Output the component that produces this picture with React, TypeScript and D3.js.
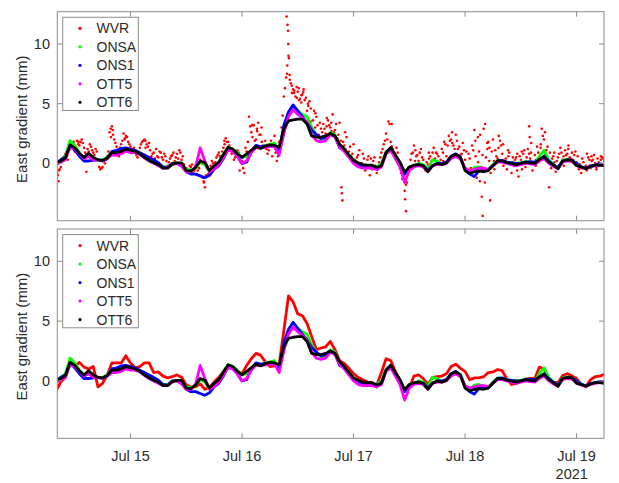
import React from "react";
import * as d3 from "d3";

// ---- data (hourly values, first sample at FIRST_HOUR hours after Jul 14 00:00) ----
const FIRST_HOUR = 8;
const OTT6 = [
  0, 0.2, 0.45, 1.55, 1.3, 0.85, 0.5, 0.85, 0.5, 0.3,
  0.25, 0.45, 0.9, 0.9, 1.0, 1.2, 1.1, 1.0, 0.8, 0.5,
  0.25, 0.05, -0.1, -0.4, -0.4, -0.05, 0.05, 0.05, -0.6, -0.65,
  -0.35, 0.2, 0.05, -0.6, -0.2, 0.1, 0.75, 1.35, 1.2, 0.8,
  0.5, 0.8, 1.1, 1.4, 1.25, 1.45, 1.55, 1.5, 1.35, 2.9,
  3.55, 3.65, 3.7, 3.7, 3.3, 2.3, 2.2, 2.2, 2.3, 2.5,
  2.3, 1.6, 1.2, 0.7, 0.25, 0.05, -0.1, -0.15, -0.15, -0.35,
  -0.2, 0.9, 1.3, 0.7, 0.1, -0.75, -0.3, -0.15, -0.1, -0.2,
  -0.7, -0.2, 0.0, -0.1, 0.05, 0.6, 0.75, 0.5, -0.6, -0.85,
  -0.7, -0.65, -0.7, -0.6, -0.2, 0.2, 0.2, 0.05, 0.0, -0.1,
  0.0, 0.1, 0.05, 0.0, 0.35, 0.55, 0.1, -0.15, -0.45, 0.2,
  0.3, 0.25, -0.2, -0.3, -0.45, -0.25, -0.15, -0.15, -0.2,
];
const ONSA = [
  0, 0.3, 0.6, 1.9, 1.5, 0.9, 0.4, 0.6, 0.4, 0.3,
  0.3, 0.5, 1.0, 1.0, 1.1, 1.25, 1.05, 0.95, 0.85, 0.6,
  0.35, 0.15, 0.0, -0.3, -0.3, 0.0, 0.05, -0.15, -0.5, -0.55,
  -0.4, 0.1, -0.1, -0.7, -0.3, 0.1, 0.8, 1.35, 1.2, 0.9,
  0.5, 0.6, 1.1, 1.4, 1.35, 1.5, 1.6, 1.7, 1.0, 2.6,
  4.2, 4.8, 4.4, 4.1, 3.9, 3.0, 2.4, 2.0, 2.1, 2.6,
  2.4, 1.5, 1.1, 0.7, 0.25, -0.1, -0.25, -0.3, -0.25, -0.3,
  0.0, 1.0, 1.2, 0.6, 0.0, -0.8, -0.3, -0.2, 0.0, -0.1,
  -0.5, 0.3, 0.2, -0.1, 0.1, 0.5, 0.7, 0.5, -0.4, -0.7,
  -0.35, -0.3, -0.5, -0.5, -0.1, 0.25, 0.2, 0.1, 0.05, 0.0,
  0.05, 0.15, 0.1, 0.0, 0.6, 1.1, 0.3, -0.1, -0.35, 0.25,
  0.35, 0.2, 0.0, -0.25, -0.45, -0.3, -0.15, -0.1, -0.1,
];
const ONS1 = [
  0, 0.3, 0.5, 1.5, 1.1, 0.6, 0.2, 0.2, 0.25, 0.3,
  0.2, 0.4, 1.0, 1.1, 1.25, 1.3, 1.2, 1.1, 0.9, 0.7,
  0.5, 0.3, 0.05, -0.3, -0.35, 0.0, 0.0, -0.2, -0.7, -0.9,
  -0.9, -1.05, -1.2, -1.0, -0.5, -0.2, 0.4, 1.2, 1.1, 0.6,
  0.0, 0.1, 1.0, 1.5, 1.4, 1.45, 1.5, 1.4, 1.0, 3.2,
  4.3, 4.9, 4.4, 3.9, 3.4, 2.8, 2.4, 2.1, 2.2, 2.5,
  2.3, 1.3, 1.1, 0.6, 0.2, -0.05, -0.2, -0.3, -0.3, -0.5,
  -0.2, 0.9, 1.3, 0.6, 0.0, -0.9, -0.4, -0.25, -0.1, -0.2,
  -0.55, -0.2, 0.0, 0.0, 0.1, 0.6, 0.8, 0.5, -0.5, -0.9,
  -1.1, -0.6, -0.6, -0.55, -0.2, 0.2, 0.25, 0.1, 0.05, 0.0,
  0.0, 0.1, 0.15, 0.1, 0.3, 0.6, 0.2, -0.1, -0.35, 0.2,
  0.3, 0.25, 0.0, -0.3, -0.4, -0.2, -0.15, -0.05, -0.1,
];
const OTT5 = [
  -0.1, 0.1, 0.3, 1.4, 1.2, 0.8, 0.4, 0.6, 0.3, 0.3,
  0.2, 0.4, 0.7, 0.7, 0.8, 1.0, 0.9, 0.9, 0.75, 0.45,
  0.2, 0.0, -0.2, -0.4, -0.35, -0.1, 0.0, -0.25, -0.7, -0.7,
  -0.3, 1.3, 0.2, -0.7, -0.5, -0.1, 0.5, 1.1, 1.0, 0.6,
  0.0, 0.2, 0.9, 1.3, 1.3, 1.35, 1.4, 1.4, 0.7, 2.5,
  3.9, 4.5, 4.1, 3.8, 3.4, 2.4, 1.9, 1.8, 1.9, 2.4,
  2.2, 1.4, 1.0, 0.5, 0.0, -0.3, -0.4, -0.4, -0.4, -0.5,
  -0.3, 0.8, 1.1, 0.4, -0.3, -1.6, -0.6, -0.3, -0.2, -0.3,
  -0.7, -0.2, -0.1, -0.1, 0.0, 0.4, 0.6, 0.35, -0.4, -0.6,
  -0.5, -0.4, -0.4, -0.5, -0.2, 0.1, 0.1, 0.0, -0.1, -0.2,
  -0.1, 0.0, -0.05, -0.1, 0.2, 0.4, 0.0, -0.25, -0.45, 0.1,
  0.2, 0.15, -0.15, -0.35, -0.45, -0.3, -0.2, -0.15, -0.15,
];
const WVR_LINE = [
  -0.8, -0.1, 0.3, 1.45, 1.2, 1.55, 1.15, 1.0, 1.2, -0.5,
  -0.2, 0.5, 1.5, 1.5, 1.5, 2.1, 1.5, 1.1, 1.2, 1.5,
  1.5, 0.7, 0.75, 0.4, 0.25, 0.35, 0.5, 0.3, -0.35, -0.5,
  -0.5, -0.25, -0.7, -0.55, -0.1, 0.3, 0.8, 1.25, 1.2, 0.8,
  0.6, 1.3, 1.85, 2.3, 2.15, 1.6, 1.2, 1.25, 1.4, 4.2,
  7.1, 6.6, 5.6, 5.45, 4.8, 3.7, 2.6, 2.75, 2.85, 3.3,
  2.6, 1.7, 1.45, 1.05, 0.6, 0.3, 0.1, -0.1, -0.15, -0.35,
  0.7, 1.85, 1.7, 0.8, 0.05, -0.8, -0.6, 0.4, 0.5, 0.2,
  -0.3, 0.3, 0.35, 0.4, 0.6, 1.2, 1.4, 1.05, 0.8, 0.1,
  0.25, 0.25, 0.35, 0.7, 0.75, 0.95, 0.85, 0.15, -0.3, -0.2,
  -0.05, 0.15, 0.2, 0.2, 1.15, 1.0, 0.15, -0.1, -0.15, 0.45,
  0.6, 0.4, 0.2, -0.3, -0.5, 0.1, 0.35, 0.4, 0.55,
];
// raw WVR samples every half hour from FIRST_HOUR
const WVR_STEP = 0.5;
const WVR_RAW: (number | null)[] = [
  -1.2, -1.5, -0.3, 0.5, 0.8, 0.3, 1.2, 1.7, 1.0, 1.9,
  1.5, 2.0, 1.3, -0.7, 1.0, 1.4, 0.9, 1.2, null, -0.5,
  -0.3, 0.0, 0.6, 2.6, 3.1, 2.0, 1.4, 0.6, 1.6, 2.5,
  2.3, 1.8, 1.4, 0.9, 1.1, 0.5, 1.3, 1.8, 2.0, 1.6,
  1.7, 0.6, 0.9, 1.2, 0.5, 0.9, 0.3, 0.6, -0.2, 0.4,
  0.7, 0.2, 0.8, 1.1, 0.3, -0.1, -0.4, -0.6, -0.3, -0.8,
  -0.2, -0.6, 0.3, -1.2, -2.0, -0.4, -0.8, 0.2, -0.3, 0.5,
  0.9, 0.5, 1.3, 2.1, 1.8, 1.2, 0.9, 0.5, 1.1, -0.6,
  0.2, -0.8, 1.0, 3.9, 2.6, 3.2, 2.0, 3.4, 2.4, 1.5,
  1.9, 0.8, 1.6, 0.6, 2.3, 0.2, 1.8, 3.0, 5.6, 7.2,
  9.0, 6.7, 6.2, 5.6, 6.0, 5.4, 5.8, 5.3, 4.4, 5.2,
  2.8, 4.4, 3.9, 2.4, 2.9, 3.3, 2.5, 3.6, 3.0, 4.1,
  2.8, 2.1, 3.4, -2.5, 1.5, 2.2, 1.0, 0.6, 1.6, 0.2,
  0.7, -0.2, 0.8, -0.6, 0.3, -1.0, -0.5, 0.5, -0.8, 0.1,
  0.9, 1.6, 2.5, 3.5, 1.8, 1.2, 0.6, 0.9, -0.4, -1.3,
  -2.3, -1.6, -0.5, 0.8, 1.5, 0.6, 0.2, 1.2, 0.3, -0.6,
  -0.1, 0.6, 0.9, 0.4, 0.8, 0.1, 1.2, 1.8, 0.6, 2.3,
  2.0, 1.5, 2.4, 1.2, 0.7, 1.7, 0.3, -0.6, 0.4, 1.5,
  2.8, -1.2, 1.0, -0.3, 2.9, 0.5, 1.8, -0.8, 2.0, 1.1,
  0.4, 1.9, 0.8, 0.2, -0.5, 0.9, -0.8, -0.2, 0.5, -1.1,
  0.3, 0.8, -0.3, 1.2, 0.4, -0.6, 0.7, 1.4, 0.2, 2.9,
  2.0, 1.1, 0.2, -0.4, 0.6, -0.7, 0.5, 1.3, 0.3, 1.1,
  0.8, 0.5, 0.9, 0.7, 0.1, -0.5, -0.8, 0.1, -0.2, 0.5,
  -0.4, 0.3, 0.0, 0.4, -0.2, 0.5, 0.2,
];
// more raw WVR samples, hourly, starting at FIRST_HOUR + 0.25
const WVR_RAW_B = [
  -0.9, 0.2, 0.9, 1.5, 1.3, 1.8, 0.9, 1.6, 0.7, -0.3,
  0.2, 1.0, 2.4, 1.1, 1.9, 2.2, 1.2, 0.7, 1.6, 1.3,
  1.1, 0.4, 1.0, 0.8, 0.1, 0.9, 0.4, 0.6, -0.7, -0.1,
  -0.9, 0.0, -1.0, -0.2, 0.1, 0.6, 1.6, 1.5, 0.3, 0.9,
  -0.4, 1.8, 2.2, 2.7, 1.8, 1.2, 1.9, 0.9, 1.5, 6.3,
  7.4, 6.1, 5.3, 6.2, 4.8, 3.6, 3.2, 2.6, 3.8, 2.7,
  3.3, 1.9, 1.2, 1.4, 0.3, 1.1, 0.4, -0.3, 0.2, -0.5,
  1.2, 2.0, 1.4, 1.3, -0.8, -1.8, 0.3, 0.2, 0.9, -0.3,
  0.4, 1.3, 0.6, 0.9, 1.5, 1.7, 1.9, 0.8, 1.0, -0.4,
  0.6, 2.4, -1.6, 1.3, 0.2, 2.3, -0.2, 1.1, 0.1, 0.8,
  -0.5, 0.5, 1.7, 0.3, 1.3, 0.7, 0.9, 0.1, 0.8, -0.2,
  1.5, 0.3, 0.6, -0.4, 0.8, 0.2, -0.5, 0.6,
];
// more raw WVR samples, hourly, starting at FIRST_HOUR + 0.75
const WVR_RAW_C = [
  -0.5, 0.6, 1.1, 1.8, 1.6, 1.7, 1.2, 1.1, 1.0, -0.4,
  0.3, 2.9, 1.7, 1.3, 2.0, 1.6, 1.3, 0.9, 1.9, 1.4,
  0.8, 0.6, 0.5, 0.2, 0.6, 0.5, 0.9, -0.5, -0.2, -0.6,
  -0.4, -1.5, -0.9, 0.0, 0.7, 1.0, 1.8, 0.8, 0.7, 0.1,
  1.3, 3.1, 1.9, 2.4, 1.3, 1.1, 1.4, 0.6, 4.0, 8.2,
  5.9, 6.4, 5.1, 5.5, 3.5, 3.0, 3.4, 2.9, 3.2, 2.6,
  2.4, 1.8, 0.9, 0.8, 0.5, 0.0, -0.4, 0.4, -0.2, 0.5,
  1.9, 3.3, 0.9, 0.2, -1.1, -0.7, 0.9, 0.7, 0.5, 0.1,
  0.2, 0.9, 0.3, 1.6, 1.9, 1.2, 1.4, 1.1, 0.8, 1.1,
  2.2, 0.7, 1.7, 1.0, 0.6, 1.5, 0.4, -0.1, 0.3, 0.6,
  1.1, 0.8, 0.1, 0.9, 2.3, 1.4, 0.4, 0.2, 0.9, 0.7,
  0.4, 1.0, -0.1, -0.3, 0.3, 0.7, 0.1, 0.4,
];
// additional irregular WVR samples [hour, value]
const WVR_EXTRA: [number, number][] = [
  [8.3, -1.0], [8.6, -0.6], [11.8, 1.4], [12.8, 1.8], [20.2, 2.8], [19.8, 2.2], [22.8, 2.1],
  [27.2, 1.9], [39.8, -1.6], [44.2, 1.9], [50.2, 3.2], [51.2, 2.9], [52.2, 3.0], [55.2, 1.2],
  [57.6, 12.3], [57.8, 11.6], [57.9, 11.1], [57.95, 10.0], [58.1, 8.8], [57.7, 7.5],
  [58.3, 7.0], [58.7, 6.5], [59.2, 5.9], [59.8, 5.5], [60.2, 6.3], [60.8, 5.7], [61.2, 6.0],
  [62.2, 5.0], [62.8, 4.6], [63.8, 4.2], [66.2, 3.1], [67.2, 3.4], [69.4, -2.0], [69.6, -3.1],
  [70.2, 2.6], [75.2, 0.6], [76.8, -0.3], [80.2, 3.3], [83.1, -3.0], [83.3, -4.0], [85.3, 1.1],
  [88.2, 0.9], [91.3, 0.2], [93.2, 2.6], [98.2, 1.9], [98.8, 0.1], [99.2, -1.5], [99.6, -2.8],
  [99.8, -4.4], [100.3, 3.3], [100.8, 1.2], [101.2, 0.2], [101.4, -3.1], [102.3, -0.5],
  [103.2, 1.3], [104.2, 1.6], [105.3, 0.6], [106.3, 0.5], [107.2, -0.6], [108.2, 1.0],
  [109.8, 3.1], [109.9, 2.2], [110.2, 0.9], [111.2, -0.2], [112.3, 1.6], [113.2, 2.6],
  [114.1, -2.0], [115.2, 0.9], [116.2, -0.3], [117.2, 0.6], [118.2, 1.2], [119.2, 0.2],
  [121.2, 0.4], [122.2, -0.6], [123.2, 0.6], [124.2, -0.3], [125.2, 0.3],
];

const LEGEND = ["WVR", "ONSA", "ONS1", "OTT5", "OTT6"];
const COLORS = ["#ff0000", "#00ff00", "#0000ff", "#ff00ff", "#000000"];
const Y_TICKS = [0, 5, 10];
const Y_DOMAIN = [-4.8, 12.7];
const YEAR_LABEL = "2021";
const Y_LABEL = "East gradient (mm)";

const BASE = new Date(2021, 6, 14, 0, 0, 0);
const toDate = (h: number) => new Date(BASE.getTime() + h * 3600 * 1000);
const X_DOMAIN = [toDate(8.25), toDate(125.9)];

const W = 619, H = 483;
const LEFT = 57.3, RIGHT = 604;
const PANELS = [
  { top: 11.7, bottom: 220.7, rawWvr: true },
  { top: 229, bottom: 438.3, rawWvr: false },
];
const AXIS_COLOR = "#8c8c8c";
const TEXT_COLOR = "#2b2b2b";
const FONT = "'Liberation Sans', Arial, Helvetica, sans-serif";

type Pt = { t: Date; v: number };
const toSeries = (arr: (number | null)[], start: number, step: number): (Pt | null)[] =>
  arr.map((v, i) => (v == null ? null : { t: toDate(start + i * step), v }));

function Panel({ idx, top, bottom, rawWvr }: { idx: number; top: number; bottom: number; rawWvr: boolean }) {
  const x = d3.scaleTime().domain(X_DOMAIN).range([LEFT, RIGHT]);
  const y = d3.scaleLinear().domain(Y_DOMAIN).range([bottom, top]);
  const line = d3
    .line<Pt | null>()
    .defined((d) => d != null)
    .x((d) => x(d!.t))
    .y((d) => y(d!.v));
  const gnss = [ONSA, ONS1, OTT5, OTT6];
  const xTicks = d3.timeDay.range(X_DOMAIN[0], X_DOMAIN[1]).filter((d) => d > X_DOMAIN[0]);
  const fmt = d3.timeFormat("%b %d");
  const clipId = `clip${idx}`;
  const tl = 5;
  const wvrPts = [
    ...toSeries(WVR_RAW, FIRST_HOUR, WVR_STEP),
    ...toSeries(WVR_RAW_B, FIRST_HOUR + 0.25, 1),
    ...toSeries(WVR_RAW_C, FIRST_HOUR + 0.75, 1),
  ].filter((d) => d != null) as Pt[];
  const extraPts = WVR_EXTRA.map(([h, v]) => ({ t: toDate(h), v }));
  const legTop = top + 5.6;
  return (
    <g>
      <defs>
        <clipPath id={clipId}>
          <rect x={LEFT} y={top} width={RIGHT - LEFT} height={bottom - top} />
        </clipPath>
      </defs>
      <rect x={LEFT} y={top} width={RIGHT - LEFT} height={bottom - top} fill="#fff" />
      <g clipPath={`url(#${clipId})`}>
        {rawWvr ? (
          <g fill={COLORS[0]}>
            {[...wvrPts, ...extraPts].map((d, i) => (
              <circle key={i} cx={x(d.t)} cy={y(d.v)} r={1.3} />
            ))}
          </g>
        ) : (
          <path d={line(toSeries(WVR_LINE, FIRST_HOUR, 1)) || ""} fill="none" stroke={COLORS[0]} strokeWidth={2.8} strokeLinejoin="round" />
        )}
        {gnss.map((arr, i) => (
          <path
            key={i}
            d={line(toSeries(arr, FIRST_HOUR, 1)) || ""}
            fill="none"
            stroke={COLORS[i + 1]}
            strokeWidth={2.8}
            strokeLinejoin="round"
          />
        ))}
      </g>
      {/* box */}
      <rect x={LEFT} y={top} width={RIGHT - LEFT} height={bottom - top} fill="none" stroke={AXIS_COLOR} strokeWidth={1} />
      {/* x ticks */}
      {xTicks.map((d, i) => (
        <g key={i}>
          <line x1={x(d)} x2={x(d)} y1={bottom} y2={bottom - tl} stroke={AXIS_COLOR} />
          <line x1={x(d)} x2={x(d)} y1={top} y2={top + tl} stroke={AXIS_COLOR} />
          {idx === 1 && (
            <text x={x(d)} y={bottom + 23} textAnchor="middle" fontSize={14.5} fill={TEXT_COLOR} fontFamily={FONT}>
              {fmt(d)}
            </text>
          )}
        </g>
      ))}
      {idx === 1 && (
        <text x={x(xTicks[xTicks.length - 1]) - 21} y={bottom + 41} textAnchor="start" fontSize={14.5} fill={TEXT_COLOR} fontFamily={FONT}>
          {YEAR_LABEL}
        </text>
      )}
      {/* y ticks */}
      {Y_TICKS.map((v) => (
        <g key={v}>
          <line x1={LEFT} x2={LEFT + tl} y1={y(v)} y2={y(v)} stroke={AXIS_COLOR} />
          <line x1={RIGHT} x2={RIGHT - tl} y1={y(v)} y2={y(v)} stroke={AXIS_COLOR} />
          <text x={50} y={y(v) + 5} textAnchor="end" fontSize={14.5} fill={TEXT_COLOR} fontFamily={FONT}>
            {v}
          </text>
        </g>
      ))}
      <text
        transform={`translate(${26.5},${(top + bottom) / 2 + 3}) rotate(-90)`}
        textAnchor="middle"
        fontSize={15}
        fill={TEXT_COLOR}
        fontFamily={FONT}
      >
        {Y_LABEL}
      </text>
      {/* legend */}
      <rect x={62.7} y={legTop} width={75.6} height={93.2} fill="#fff" stroke={AXIS_COLOR} strokeWidth={1} />
      {LEGEND.map((name, i) => (
        <g key={name}>
          <circle cx={80} cy={legTop + 11 + i * 18.5} r={1.6} fill={COLORS[i]} />
          <text x={96.5} y={legTop + 16 + i * 18.5} fontSize={14} fill={TEXT_COLOR} fontFamily={FONT}>
            {name}
          </text>
        </g>
      ))}
    </g>
  );
}

export default function App() {
  return (
    <svg width={W} height={H} style={{ position: "absolute", left: 0, top: 0, background: "#fff" }}>
      <rect width={W} height={H} fill="#fff" />
      {PANELS.map((p, i) => (
        <Panel key={i} idx={i} top={p.top} bottom={p.bottom} rawWvr={p.rawWvr} />
      ))}
    </svg>
  );
}
